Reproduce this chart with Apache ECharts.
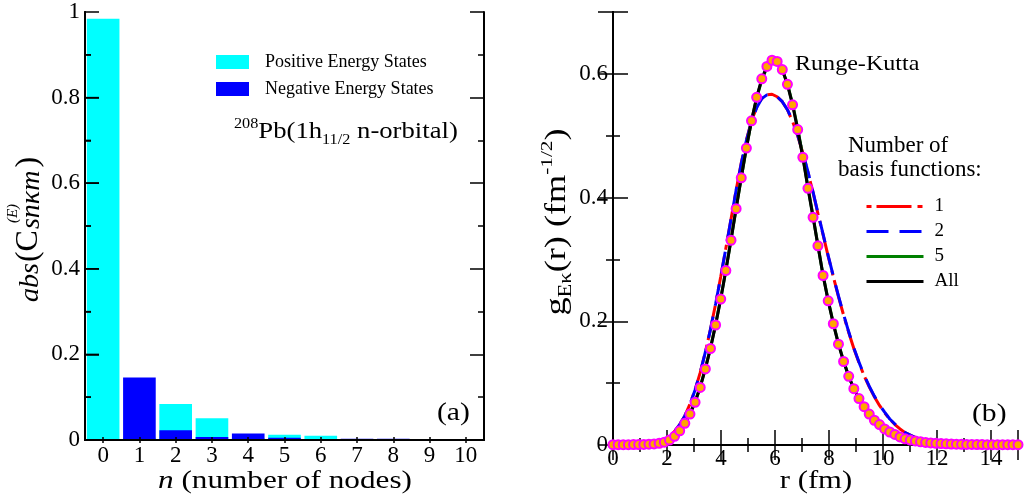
<!DOCTYPE html>
<html><head><meta charset="utf-8">
<script src="https://cdn.jsdelivr.net/npm/echarts@6/dist/echarts.min.js"></script>
<style>html,body{margin:0;padding:0;background:#fff}#c{width:1024px;height:503px}</style>
</head><body><div id="c"></div>
<script>
// ---------- Panel (a) data ----------
const nodeCategories = ['0','1','2','3','4','5','6','7','8','9','10'];
const positiveStates = [0.984, 0.005, 0.084, 0.051, 0.004, 0.012, 0.010, 0.001, 0.001, 0.002, 0.002];
const negativeStates = [0.000, 0.146, 0.023, 0.007, 0.015, 0.005, 0.000, 0.003, 0.003, 0.001, 0.001];
const majorTicksA = [0.2, 0.4, 0.6, 0.8];
const minorTicksA = [0.1, 0.3, 0.5, 0.7, 0.9];

// ---------- Panel (b) data ----------
const rGrid = [0,0.19,0.38,0.57,0.76,0.95,1.14,1.33,1.52,1.71,1.90,2.09,2.28,2.47,2.66,2.85,3.04,3.23,3.42,3.61,3.80,3.99,4.18,4.37,4.56,4.75,4.94,5.13,5.32,5.51,5.70,5.89,6.08,6.27,6.46,6.65,6.84,7.03,7.22,7.41,7.59,7.78,7.97,8.16,8.35,8.54,8.73,8.92,9.11,9.30,9.49,9.68,9.87,10.06,10.25,10.44,10.63,10.82,11.01,11.20,11.39,11.58,11.77,11.96,12.15,12.34,12.53,12.72,12.91,13.10,13.29,13.48,13.67,13.86,14.05,14.24,14.43,14.62,14.81,15.00];
const rungeKutta = [0.0005,0.0005,0.0005,0.0006,0.0007,0.0008,0.0010,0.0013,0.0018,0.0028,0.0045,0.008,0.014,0.023,0.035,0.050,0.069,0.093,0.123,0.156,0.194,0.236,0.282,0.331,0.382,0.432,0.480,0.524,0.562,0.592,0.612,0.622,0.620,0.607,0.583,0.550,0.510,0.465,0.415,0.368,0.322,0.274,0.233,0.196,0.163,0.135,0.111,0.091,0.075,0.062,0.050,0.040,0.033,0.026,0.021,0.017,0.013,0.010,0.008,0.0065,0.0052,0.0042,0.0034,0.0028,0.0023,0.0019,0.0016,0.0013,0.0011,0.0010,0.0009,0.0008,0.0007,0.0006,0.0006,0.0005,0.0005,0.0005,0.0005,0.0005];
const basis1 = [0.0008,0.0009,0.0010,0.0012,0.0015,0.0020,0.0028,0.0040,0.0045,0.0065,0.009,0.014,0.022,0.033,0.047,0.066,0.089,0.117,0.150,0.187,0.228,0.272,0.318,0.365,0.412,0.456,0.493,0.524,0.546,0.560,0.566,0.567,0.563,0.555,0.542,0.523,0.500,0.472,0.441,0.408,0.374,0.340,0.305,0.272,0.240,0.210,0.182,0.156,0.133,0.112,0.094,0.078,0.064,0.052,0.042,0.033,0.026,0.020,0.016,0.012,0.009,0.007,0.0055,0.0043,0.0034,0.0027,0.0021,0.0017,0.0014,0.0012,0.0010,0.0009,0.0008,0.0007,0.0006,0.0006,0.0005,0.0005,0.0005,0.0005];
const basis2 = [0.0008,0.0009,0.0010,0.0012,0.0015,0.0020,0.0028,0.0040,0.0045,0.0062,0.009,0.014,0.022,0.033,0.047,0.066,0.089,0.117,0.150,0.187,0.228,0.272,0.318,0.365,0.412,0.455,0.492,0.523,0.545,0.560,0.566,0.567,0.563,0.555,0.542,0.524,0.501,0.473,0.442,0.409,0.375,0.341,0.306,0.273,0.241,0.211,0.183,0.157,0.134,0.113,0.095,0.079,0.065,0.053,0.042,0.034,0.026,0.020,0.016,0.012,0.009,0.007,0.0055,0.0043,0.0034,0.0027,0.0021,0.0017,0.0014,0.0012,0.0010,0.0009,0.0008,0.0007,0.0006,0.0006,0.0005,0.0005,0.0005,0.0005];
const basis5 = [0.0005,0.0005,0.0005,0.0006,0.0007,0.0008,0.0010,0.0013,0.0018,0.0028,0.0045,0.008,0.014,0.023,0.035,0.051,0.070,0.094,0.124,0.157,0.195,0.237,0.283,0.332,0.383,0.432,0.480,0.524,0.561,0.590,0.610,0.619,0.618,0.606,0.584,0.552,0.512,0.467,0.417,0.370,0.323,0.275,0.234,0.197,0.164,0.136,0.111,0.091,0.075,0.062,0.050,0.040,0.033,0.026,0.021,0.017,0.013,0.010,0.008,0.0065,0.0052,0.0042,0.0034,0.0028,0.0023,0.0019,0.0016,0.0013,0.0011,0.0010,0.0009,0.0008,0.0007,0.0006,0.0006,0.0005,0.0005,0.0005,0.0005,0.0005];
const basisAll = [0.0005,0.0005,0.0005,0.0006,0.0007,0.0008,0.0010,0.0013,0.0018,0.0028,0.0045,0.008,0.014,0.023,0.035,0.050,0.069,0.093,0.123,0.156,0.194,0.236,0.282,0.331,0.382,0.432,0.480,0.524,0.562,0.592,0.612,0.622,0.620,0.607,0.583,0.550,0.510,0.465,0.415,0.368,0.322,0.274,0.233,0.196,0.163,0.135,0.111,0.091,0.075,0.062,0.050,0.040,0.033,0.026,0.021,0.017,0.013,0.010,0.008,0.0065,0.0052,0.0042,0.0034,0.0028,0.0023,0.0019,0.0016,0.0013,0.0011,0.0010,0.0009,0.0008,0.0007,0.0006,0.0006,0.0005,0.0005,0.0005,0.0005,0.0005];

const FONT = '"Liberation Serif", "Times New Roman", serif';
const FAM = 'Liberation Serif';
const BLACK = '#000';

const mctx = document.createElement('canvas').getContext('2d');
function tw(t, size, italic) { mctx.font = (italic ? 'italic ' : '') + size + 'px ' + FONT; return mctx.measureText(t).width; }
function pairs(xs, ys) { return xs.map((x, i) => [x, ys[i]]); }

function txt(x, y, text, size, opts) {
  opts = opts || {};
  const st = {
    text: text, font: (opts.italic ? 'italic ' : '') + size + 'px ' + FONT, fill: BLACK,
    align: opts.align || 'left', verticalAlign: opts.va || 'middle',
    textAlign: opts.align || 'left', textVerticalAlign: opts.va || 'middle'
  };
  if (opts.rich) st.rich = opts.rich;
  return { type: 'text', x: x, y: y, rotation: opts.rotation || 0, scaleX: opts.sx || 1, style: st, silent: true };
}

function leftYTitle() {
  const ch = [];
  let x = 0;
  ch.push(txt(x, 2, 'abs', 28, { italic: true }));
  x += tw('abs', 28, true) + 1;
  ch.push(txt(x, 0, '(C', 32));
  x += tw('(C', 32) + 1;
  ch.push(txt(x + 6, -16, '(E)', 15, { italic: true }));
  ch.push(txt(x, 3, 'snκm', 28, { italic: true }));
  x += tw('snκm', 28, true) + 3;
  ch.push(txt(x, 0, ')', 32));
  return { type: 'group', x: 29, y: 302, rotation: Math.PI / 2, children: ch };
}

const tickStyle = () => ({ color: BLACK, width: 1.5 });
const axLine = () => ({ color: BLACK, width: 2 });
const labelStyle = () => ({ color: BLACK, fontFamily: FAM, fontSize: 23 });

function valAxis(o) {
  return Object.assign({
    type: 'value', splitLine: { show: true, lineStyle: { opacity: 0 } },
    axisLine: { show: true, lineStyle: axLine() },
    axisTick: { show: true, inside: true, length: 15, lineStyle: tickStyle() },
    axisLabel: { show: false }
  }, o);
}
const minorTicks = () => ({ show: true, inside: true, length: 7, lineStyle: tickStyle() });
const aTicks = () => ({ show: true, inside: true, length: 14, lineStyle: tickStyle() });
const aMinor = () => ({ show: true, splitNumber: 2, length: 6, lineStyle: tickStyle() });

const xAxes = [
  { type: 'category', gridIndex: 0, position: 'bottom', data: nodeCategories, zlevel: 1, z: 10,
    axisLine: { lineStyle: axLine() }, axisTick: { show: true, inside: true, length: 3, alignWithLabel: true, lineStyle: tickStyle() },
    axisLabel: Object.assign({ margin: 4 }, labelStyle()) },
  { type: 'category', gridIndex: 0, position: 'top', data: nodeCategories, zlevel: 1, z: 10,
    axisLine: { lineStyle: axLine() }, axisTick: { show: true, inside: true, length: 3, alignWithLabel: true, lineStyle: tickStyle() },
    axisLabel: { show: false } },
  valAxis({ gridIndex: 1, position: 'bottom', min: 0, max: 15, interval: 2,
    axisLabel: Object.assign({ show: true, margin: 2, showMaxLabel: false }, labelStyle()) }),
  valAxis({ gridIndex: 1, position: 'bottom', min: 0, max: 15, interval: 1, axisTick: minorTicks() }),
  valAxis({ gridIndex: 1, position: 'top', min: 0, max: 15, interval: 2 }),
  valAxis({ gridIndex: 1, position: 'top', min: 0, max: 15, interval: 1, axisTick: minorTicks() }),
  valAxis({ gridIndex: 1, position: 'bottom', min: 0, max: 15, interval: 2 })
];

const yAxes = [
  valAxis({ gridIndex: 0, position: 'left', min: 0, max: 1, interval: 0.2, zlevel: 1, z: 10,
    axisTick: aTicks(), minorTick: aMinor(),
    axisLabel: Object.assign({ show: true, margin: 5 }, labelStyle()) }),
  valAxis({ gridIndex: 0, position: 'right', min: 0, max: 1, interval: 0.2, zlevel: 1, z: 10,
    axisTick: aTicks(), minorTick: aMinor() }),
  valAxis({ gridIndex: 1, position: 'left', min: 0, max: 0.7, interval: 0.2,
    axisLabel: Object.assign({ show: true, margin: 5, showMaxLabel: false }, labelStyle()) }),
  valAxis({ gridIndex: 1, position: 'left', min: 0, max: 0.7, interval: 0.1, axisTick: minorTicks() }),
  valAxis({ gridIndex: 1, position: 'right', min: 0, max: 0.7, interval: 0.2 }),
  valAxis({ gridIndex: 1, position: 'right', min: 0, max: 0.7, interval: 0.1, axisTick: minorTicks() }),
  valAxis({ gridIndex: 0, position: 'left', min: 0, max: 1, interval: 0.2, zlevel: 1, z: 10,
    axisTick: aTicks(), minorTick: aMinor() }),
  valAxis({ gridIndex: 1, position: 'left', min: 0, max: 0.7, interval: 0.2 })
];

function lineSeries(name, ys, color, type, width) {
  return { name: name, type: 'line', xAxisIndex: 2, yAxisIndex: 2, data: pairs(rGrid, ys),
    symbol: 'none', showSymbol: false, smooth: false, color: color,
    lineStyle: { color: color, width: width, type: type }, silent: true, z: 3 };
}

// Left-axis ticks of panel (a), drawn on top of the bars through the axis scale
function leftTickSeries(values, len) {
  return { type: 'custom', xAxisIndex: 0, yAxisIndex: 0, silent: true, z: 6,
    data: values.map(v => [0, v]),
    renderItem: function (params, api) {
      const y = api.coord([0, api.value(1)])[1];
      const x0 = params.coordSys.x;
      return { type: 'line', shape: { x1: x0, y1: y, x2: x0 + len, y2: y },
               style: { stroke: BLACK, lineWidth: 1.5 } };
    } };
}

const option = {
  animation: false,
  backgroundColor: '#fff',
  grid: [
    { left: 85, top: 12, width: 399, height: 428 },
    { left: 613, top: 12, width: 405, height: 433 }
  ],
  xAxis: xAxes,
  yAxis: yAxes,
  legend: [
    { data: ['Positive Energy States', 'Negative Energy States'], left: 216, top: 53, padding: 0,
      orient: 'vertical', itemWidth: 33, itemHeight: 14, itemGap: 9, icon: 'rect', selectedMode: false,
      textStyle: { color: BLACK, fontFamily: FAM, fontSize: 18, lineHeight: 14, padding: [0, 0, 0, 11] } },
    { data: ['1', '2', '5', 'All'], left: 865, top: 197, padding: 0,
      orient: 'vertical', itemWidth: 57, itemHeight: 14, itemGap: 6, selectedMode: false,
      itemStyle: { opacity: 0 }, lineStyle: { width: 3 },
      textStyle: { color: BLACK, fontFamily: FAM, fontSize: 19, lineHeight: 14, padding: [0, 0, 0, 6] } }
  ],
  series: [
    { name: 'Positive Energy States', type: 'bar', xAxisIndex: 0, yAxisIndex: 0, data: positiveStates, z: 1,
      barWidth: '90%', barGap: '-100%', itemStyle: { color: '#00ffff' }, silent: true },
    { name: 'Negative Energy States', type: 'bar', xAxisIndex: 0, yAxisIndex: 0, data: negativeStates, z: 1,
      barWidth: '90%', barGap: '-100%', itemStyle: { color: '#0000ff' }, silent: true },
    leftTickSeries(majorTicksA, 14),
    leftTickSeries(minorTicksA, 6),
    lineSeries('1', basis1, '#ff0000', [5, 5, 35, 6], 3),
    lineSeries('2', basis2, '#0000ff', [22, 11], 3),
    lineSeries('5', basis5, '#008000', 'solid', 3),
    lineSeries('All', basisAll, '#000000', 'solid', 3),
    { name: 'Runge-Kutta', type: 'scatter', xAxisIndex: 2, yAxisIndex: 2, data: pairs(rGrid, rungeKutta),
      symbol: 'circle', symbolSize: 9, itemStyle: { color: '#ffa500', borderColor: '#ff00ff', borderWidth: 2, opacity: 1 },
      silent: true, z: 5 }
  ],
  graphic: [
    leftYTitle(),
    txt(557, 222, '{m|g}{s|Eκ}{m|(r) (fm}{p|-1/2}{m|)}', 29, { align: 'center', rotation: Math.PI / 2, sx: 1.25,
      rich: {
        m: { fontFamily: FAM, fontSize: 29, lineHeight: 36, fill: BLACK, color: BLACK },
        s: { fontFamily: FAM, fontSize: 18, lineHeight: 18, verticalAlign: 'bottom', fill: BLACK, color: BLACK },
        p: { fontFamily: FAM, fontSize: 17, lineHeight: 18, verticalAlign: 'top', fill: BLACK, color: BLACK }
      } }),
    txt(234, 117, '{p|208}{m|Pb(1h}{s|11/2}{m| n-orbital)}', 23, { va: 'top', sx: 1.16,
      rich: {
        m: { fontFamily: FAM, fontSize: 23, lineHeight: 30, fill: BLACK, color: BLACK },
        s: { fontFamily: FAM, fontSize: 14, lineHeight: 14, verticalAlign: 'bottom', fill: BLACK, color: BLACK },
        p: { fontFamily: FAM, fontSize: 14, lineHeight: 14, verticalAlign: 'top', fill: BLACK, color: BLACK }
      } }),
    txt(285, 481, '{i|n} (number of nodes)', 26, { align: 'center', sx: 1.2,
      rich: { i: { fontFamily: FAM, fontStyle: 'italic', fontSize: 26, fill: BLACK, color: BLACK } } }),
    txt(816, 481, 'r (fm)', 26, { align: 'center', sx: 1.18 }),
    txt(437, 413, '(a)', 26, { sx: 1.14 }),
    txt(972, 414, '(b)', 26, { sx: 1.14 }),
    txt(795, 64, 'Runge-Kutta', 21.5, { sx: 1.12 }),
    txt(848, 146, 'Number of', 23),
    txt(838, 170, 'basis functions:', 23)
  ]
};

const chart = echarts.init(document.getElementById('c'), null, { renderer: 'canvas' });
chart.setOption(option);
</script>
</body></html>
